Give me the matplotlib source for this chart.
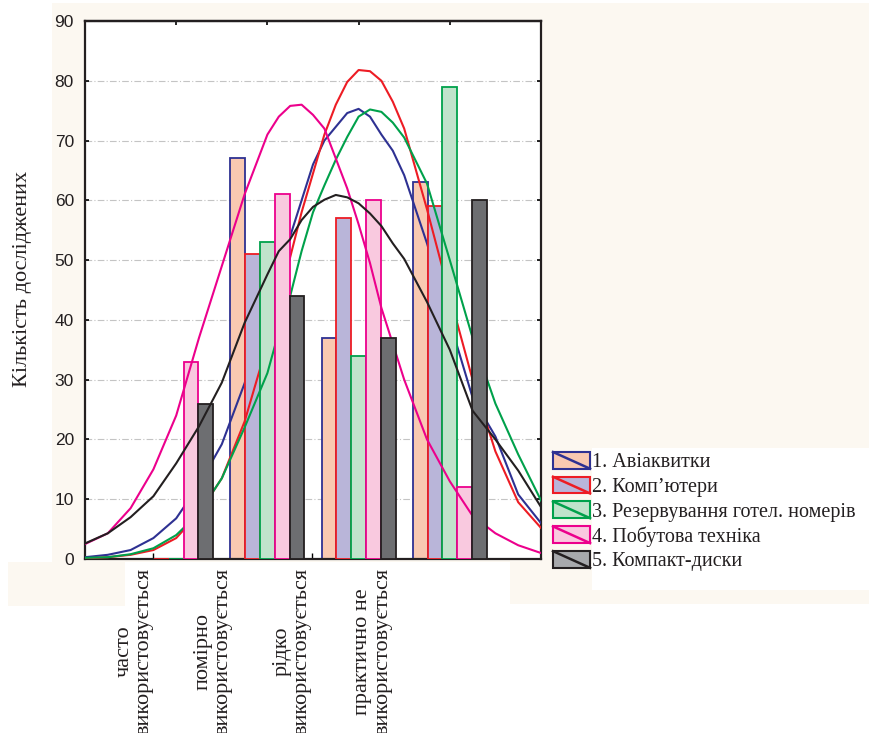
import matplotlib.pyplot as plt
from matplotlib.patches import Rectangle, Patch
from matplotlib.lines import Line2D
from matplotlib.legend_handler import HandlerBase
from matplotlib.transforms import ScaledTranslation

# categories of usage and number of studies per product group
categories = ['часто\nвикористовується', 'помірно\nвикористовується',
              'рідко\nвикористовується', 'практично не\nвикористовується']
category_x = [1, 2, 3, 4]
label_x = [0.75, 1.62, 2.49, 3.37]

series_names = ['1. Авіаквитки', '2. Комп\u2019ютери', '3. Резервування готел. номерів',
                '4. Побутова техніка', '5. Компакт-диски']
aviatickets = [0, 67, 37, 63]
computers = [0, 51, 57, 59]
hotels = [0, 53, 34, 79]
appliances = [33, 61, 60, 12]
discs = [26, 44, 37, 60]

# fitted normal curves
curve_x = [0, 0.25, 0.5, 0.75, 1.0, 1.25, 1.5, 1.75, 2.0, 2.125, 2.25, 2.375, 2.5,
           2.625, 2.75, 2.875, 3.0, 3.125, 3.25, 3.375, 3.5, 3.75, 4.0, 4.25, 4.5, 4.75, 5.0]
aviatickets_fit = [0.3, 0.7, 1.5, 3.5, 6.8, 12.4, 19.2, 29.4, 41.4, 48.5, 54, 60, 66,
                   70, 72.3, 74.6, 75.3, 74, 71, 68.3, 64.2, 52.8, 39.7, 27, 20.5, 10.8, 6]
computers_fit = [0.1, 0.3, 0.7, 1.5, 3.5, 7.7, 13.5, 23, 36, 44, 50.5, 58, 64.5,
                 71, 76, 79.8, 81.8, 81.6, 80, 76.5, 72, 58.5, 44, 30, 18, 9.5, 5.2]
hotels_fit = [0.2, 0.3, 0.8, 1.8, 4, 7.7, 13.5, 22, 31.1, 38, 44, 51.5, 58,
              62.5, 66.8, 70.6, 74, 75.2, 74.8, 73, 70.5, 62.8, 50, 37, 26, 17.5, 9.8]
appliances_fit = [2.5, 4.3, 8.5, 15, 24, 37, 49, 61, 71, 74, 75.8, 76, 74.3,
                  72, 67, 62, 56, 49.5, 42, 36, 30, 20, 13, 7.2, 4.3, 2.3, 1.0]
discs_fit = [2.6, 4.3, 7, 10.5, 16, 22.2, 29.5, 39.5, 47.6, 51.5, 53.5, 56.7, 58.9,
             60.1, 60.9, 60.5, 59.5, 57.8, 55.7, 52.8, 50.2, 43, 35, 24.8, 20, 14.8, 8.7]

bar_values = [aviatickets, computers, hotels, appliances, discs]
fit_values = [aviatickets_fit, computers_fit, hotels_fit, appliances_fit, discs_fit]
face_colors = ['#f9c9b1', '#b9b5d9', '#c0e3cb', '#f9c9df', '#6d6e71']
legend_faces = ['#f9c9b1', '#b9b5d9', '#c0e3cb', '#f9c9df', '#a7a9ac']
edge_colors = ['#2e3192', '#ed1c24', '#00a14b', '#ec008c', '#231f20']

W, H = 870, 733
CREAM = '#fcf8f1'
SERIF = 'Liberation Serif'
SANS = 'Liberation Sans'
INK = '#231f20'


class DiagonalHandler(HandlerBase):
    def create_artists(self, legend, orig_handle, xdescent, ydescent,
                       width, height, fontsize, trans):
        x0, y0 = -xdescent, -ydescent
        box = Rectangle((x0, y0), width, height, facecolor=orig_handle.get_facecolor(),
                        edgecolor=orig_handle.get_edgecolor(), linewidth=1.5, transform=trans)
        diag = Line2D([x0, x0 + width], [y0 + height, y0], color=orig_handle.get_edgecolor(),
                      linewidth=1.8, transform=trans)
        return [box, diag]


def px_rect(fig, x0, y0, x1, y1, color):
    fig.patches.append(Rectangle((x0 / W, 1 - y1 / H), (x1 - x0) / W, (y1 - y0) / H,
                                 transform=fig.transFigure, facecolor=color,
                                 edgecolor='none', zorder=-10))


fig = plt.figure(figsize=(W / 100, H / 100), dpi=100, facecolor='white')
px_rect(fig, 52, 3, 870, 562, CREAM)
px_rect(fig, 8, 562, 125, 606, CREAM)
px_rect(fig, 510, 562, 870, 604, CREAM)
px_rect(fig, 592, 448, 870, 590, 'white')

ax = fig.add_axes([85 / W, 1 - 559 / H, 456 / W, 538 / H])
ax.set_facecolor('white')

bar_w = 0.162
for i, (vals, fit) in enumerate(zip(bar_values, fit_values)):
    xs = [c + (i - 2) * bar_w for c in category_x]
    ax.bar(xs, vals, width=bar_w, color=face_colors[i], edgecolor=edge_colors[i],
           linewidth=1.3, zorder=2 + 2 * i)
    ax.plot(curve_x, fit, color=edge_colors[i], linewidth=1.5, zorder=3 + 2 * i)

ax.set_xlim(0, 5)
ax.set_ylim(0, 90)
ax.set_yticks(range(0, 91, 10))
ax.yaxis.grid(True, color='#c4c4c4', linestyle=(0, (6, 2, 1, 2)), linewidth=0.8, zorder=0)
ax.set_axisbelow(True)

ax.set_xticks(label_x)
ax.set_xticklabels(categories, rotation=90, ha='right', va='top', multialignment='center',
                   fontfamily=SERIF, fontsize=16, color=INK, linespacing=1.08)
nudge = ScaledTranslation(3 / 100, 0, fig.dpi_scale_trans)
for lbl in ax.get_xticklabels():
    lbl.set_transform(lbl.get_transform() + nudge)
for lbl in ax.get_yticklabels():
    lbl.set_fontfamily(SANS)
    lbl.set_fontsize(12.5)
    lbl.set_color(INK)
ax.tick_params(axis='x', direction='in', length=4, width=1, pad=6.5)
ax.tick_params(axis='y', direction='in', length=3, width=1.2, pad=8, right=True)

top = ax.secondary_xaxis('top')
top.set_xticks(category_x)
top.tick_params(direction='in', length=3, width=1.2, labeltop=False)
top.spines['top'].set_linewidth(1.6)

for sp in ax.spines.values():
    sp.set_linewidth(1.6)
    sp.set_color(INK)

ax.set_ylabel('Кількість досліджених', fontfamily=SERIF, fontsize=16, color=INK, va='center')
ax.yaxis.set_label_coords(-0.138, 0.52)

handles = [Patch(facecolor=legend_faces[i], edgecolor=edge_colors[i]) for i in range(5)]
fig.legend(handles, series_names, handler_map={Patch: DiagonalHandler()},
           loc='upper left', bbox_to_anchor=(553 / W, 1 - 452 / H), frameon=False,
           prop={'family': SERIF, 'size': 14.5}, labelcolor=INK,
           handlelength=1.84, handleheight=0.9, handletextpad=0.1,
           labelspacing=0.22, borderpad=0, borderaxespad=0)

fig.savefig('out.png', dpi=100, facecolor='white')
